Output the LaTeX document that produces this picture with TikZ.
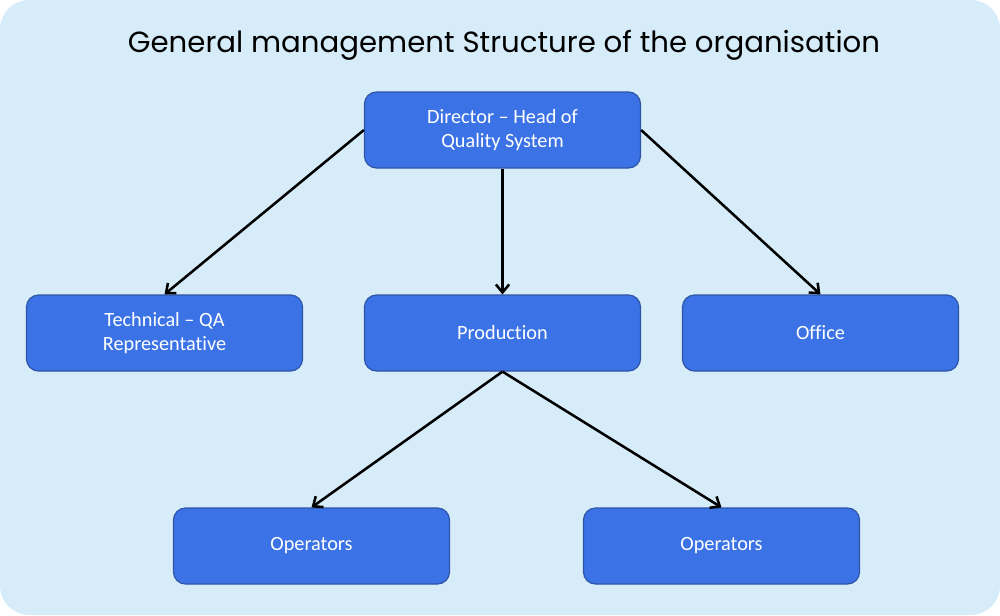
\documentclass[tikz,border=0pt]{standalone}
\usepackage{fontspec}
\setmainfont{Carlito}[Ligatures=NoCommon]
\newfontfamily\titlefont{Poppins}
\usetikzlibrary{arrows.meta}
\definecolor{bgblue}{HTML}{D6ECF8}
\definecolor{boxblue}{HTML}{3B73E6}
\definecolor{boxedge}{HTML}{2E54A6}
\tikzset{
  unit/.style={draw=boxedge, line width=0.9pt, fill=boxblue, rounded corners=9pt,
    minimum width=207pt, minimum height=57pt, align=center, text=white,
    font=\fontsize{15.2}{18}\selectfont},
  link/.style={-{Straight Barb[length=6pt,width=10pt]}, line width=1.9pt}
}
\begin{document}
\begin{tikzpicture}[x=0.75pt, y=-0.75pt]
  % Background panel
  \fill[white] (0,0) rectangle (1000,615);
  \fill[bgblue, rounded corners=22pt] (0,0) rectangle (1000,615);
  \useasboundingbox (0,0) rectangle (1000,615);

  % Title
  \node[font=\titlefont\fontsize{21.9}{25}\selectfont] (title) at (504,45) {General management Structure of the organisation};

  % Top level
  \node[unit] (director) at (502.5,130) {Director -- Head of\\Quality System};

  % Second level
  \node[unit] (technical) at (164.5,333) {Technical -- QA\\Representative};
  \node[unit] (production) at (502.5,333) {Production};
  \node[unit] (office) at (820.5,333) {Office};

  % Third level
  \node[unit] (operatorsA) at (311.5,546) {Operators};
  \node[unit] (operatorsB) at (721.5,546) {Operators};

  % Arrows
  \draw[link] (director.west) -- (technical.north);
  \draw[link] (director.south) -- (production.north);
  \draw[link] (director.east) -- (office.north);
  \draw[link] (production.south) -- (operatorsA.north);
  \draw[link] (production.south) -- (operatorsB.north);

\end{tikzpicture}
\end{document}
